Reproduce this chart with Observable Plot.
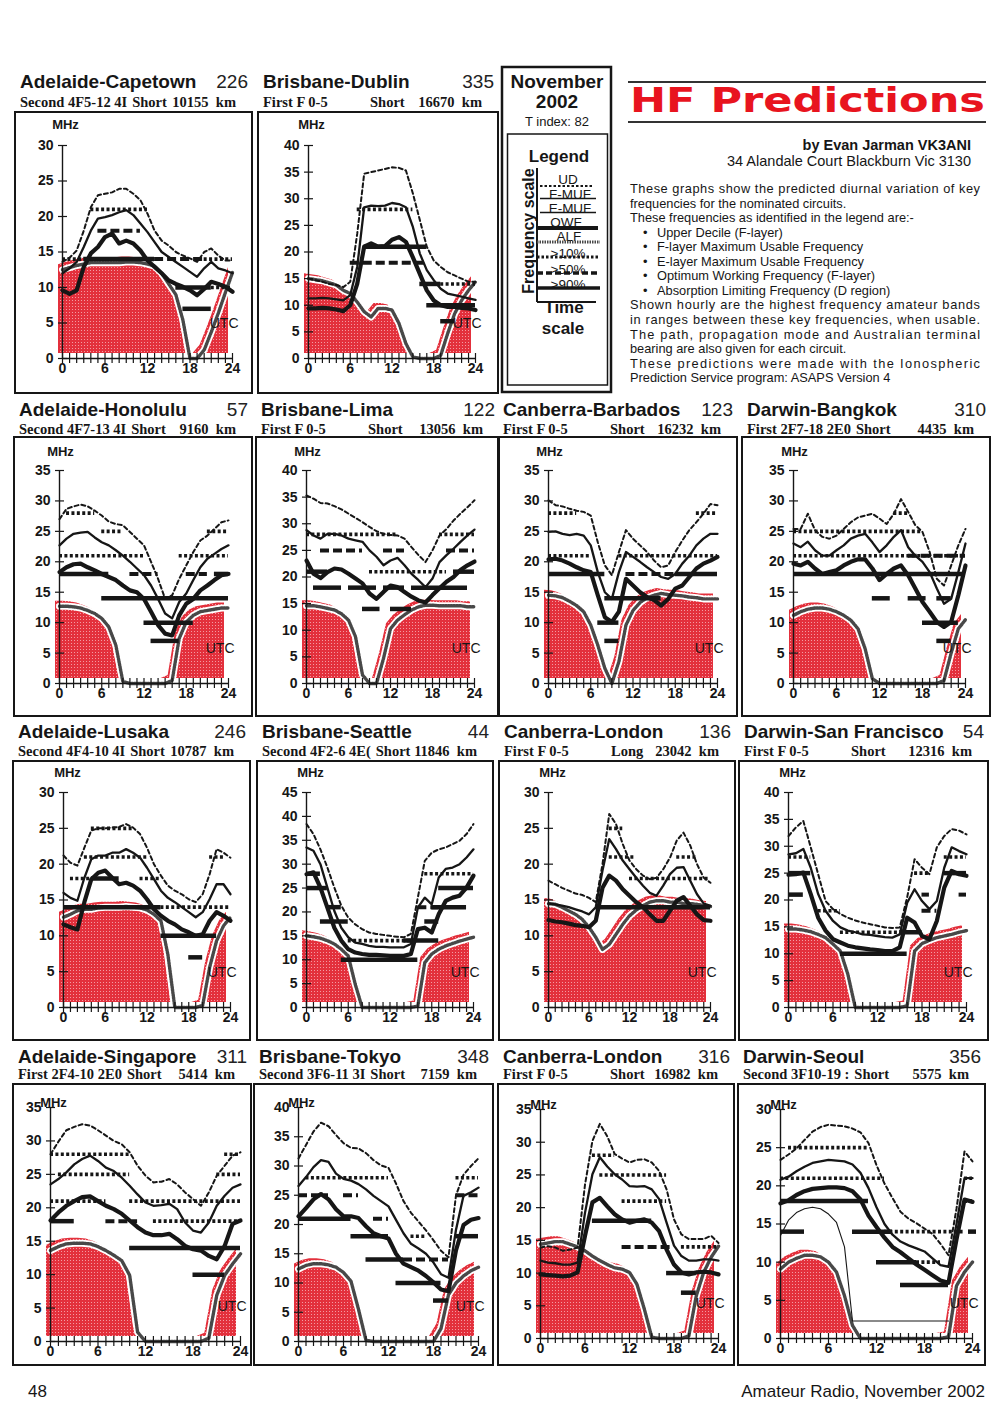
<!DOCTYPE html>
<html><head><meta charset="utf-8">
<script src="https://cdn.jsdelivr.net/npm/d3@7"></script>
<script src="https://cdn.jsdelivr.net/npm/@observablehq/plot@0.6"></script>
<style>
body{margin:0;background:#fff;}
#page{position:relative;width:1000px;height:1407px;overflow:hidden;background:#fff;}
.panel{position:absolute;}
.panel svg{display:block;overflow:visible;}
#overlay{position:absolute;left:0;top:0;z-index:5;pointer-events:none;}
</style></head>
<body>
<svg width="0" height="0" style="position:absolute"><defs>
<pattern id="stipple" width="3" height="3" patternUnits="userSpaceOnUse"><rect width="3" height="3" fill="#e3303c"/><rect x="1" y="1" width="1" height="1" fill="#f39aa2"/></pattern>
</defs></svg>
<div id="page"><svg id="overlay" width="1000" height="1407"></svg></div>
<script>
// ---------- DATA ----------
const hours = [0,1,2,3,4,5,6,7,8,9,10,11,12,13,14,15,16,17,18,19,20,21,22,23,24];
const titles = ["Adelaide-Capetown","Brisbane-Dublin","Adelaide-Honolulu","Brisbane-Lima","Canberra-Barbados","Darwin-Bangkok","Adelaide-Lusaka","Brisbane-Seattle","Canberra-London","Darwin-San Francisco","Adelaide-Singapore","Brisbane-Tokyo","Canberra-London","Darwin-Seoul"];
const bearings = ["226","335","57","122","123","310","246","44","136","54","311","348","316","356"];
const modes = ["Second 4F5-12 4I","First F 0-5","Second 4F7-13 4I","First F 0-5","First F 0-5","First 2F7-18 2E0","Second 4F4-10 4I","Second 4F2-6 4E(","First F 0-5","First F 0-5","First 2F4-10 2E0","Second 3F6-11 3I","First F 0-5","Second 3F10-19 :"];
const paths = ["Short","Short","Short","Short","Short","Short","Short","Short","Long","Short","Short","Short","Short","Short"];
const distances = ["10155  km","16670  km","9160  km","13056  km","16232  km","4435  km","10787  km","11846  km","23042  km","12316  km","5414  km","7159  km","16982  km","5575  km"];
const yMax = [30,40,35,40,35,35,30,45,30,40,35,40,35,30];
const xLabels = [0,6,12,18,24];

// Adelaide-Capetown
const cptUD   = [13.6,14.2,15.2,18,21.3,23,23.2,23.4,23.9,23.9,23.2,22.3,20.4,18,16.6,15.9,15,14.5,14.1,13.6,15,15.5,14.5,13.8,13.8];
const cptFMUF = [12,12.7,13.6,15.7,18,19.7,19.9,20.2,20.6,20.9,20.2,19,17.8,16.4,15,14.3,13.6,12.9,12.2,11.5,12.7,13.6,12.7,12.4,12];
const cptOWF  = [9.6,9.1,9.6,12.9,14.8,15.7,17.1,17.6,16.2,16.6,16.2,15.2,13.8,12.9,12,11,10.5,10.1,9.6,8.9,9.8,10.8,10.5,10.1,9.4];
const cptALF  = [12.5,12.8,13.1,13.3,13.5,13.5,13.5,13.5,13.5,13.6,13.6,13.5,13.3,13,12,10.5,9,5.4,0,0,1.2,3.7,6.4,9.3,12.1];
const cptP10  = [[0,3,14],[4,12,21],[20,24,14],[21,24,10]];
const cptP50  = [[5,11,18],[13,20,14]];
const cptP90  = [[3,13,14],[16,21,10],[17,21,7]];
// Brisbane-Dublin
const dubUD   = [15,14.7,14.4,14,13.8,13.4,14.4,23.4,34.7,35,35.3,35.6,35.9,35.8,35.3,31,26,21,18.4,17.2,16.2,15.6,15,14.4,14.4];
const dubFMUF = [11.3,11.3,11.4,11.3,11.1,10.9,11.9,17.2,28.4,28.7,28.6,28.7,29.2,29,28.4,24.7,19.7,16.6,14.7,13.1,12.2,11.9,11.6,11.3,11];
const dubOWF  = [9.4,9.4,9.5,9.4,9.2,8.9,10,14,21,21.6,21,21.1,22.3,22.8,21.9,19,15.9,12.8,10.9,10,9.7,9.7,9.5,9.4,9.1];
const dubALF  = [15,14.8,14.6,14.2,13.8,12.8,12.2,10.6,8.8,7.8,9.4,9.4,9.1,6.6,2.8,0.3,0,0,0,0.6,4.7,8.4,10.9,12.8,14.4];
const dubP10  = [[7,15,28],[19,24,14]];
const dubP50  = [[6,17,18]];
const dubP90  = [[8,17,21],[16,19,14],[17,24,10],[19,21,7]];
// Adelaide-Honolulu
const honUD   = [27,28.7,29.1,29.4,29.1,28.4,27.6,26.6,26.2,26,24.9,23.8,22.7,20,17.2,13.9,14.5,17.2,19.4,21.6,23.5,24.3,25.4,26.5,26.8];
const honFMUF = [22.7,23.8,24.6,24.8,24.9,24,23.2,22.7,21.9,21,20,18.9,17.8,16.1,13.9,11.5,10.7,13.4,14.8,17,19.1,20.5,21.3,22.1,22.7];
const honOWF  = [18.3,19.1,19.6,19.7,19.1,18.6,18,17.5,17,16.1,15.3,15,13.9,11.8,9.6,8.2,7.9,11.2,13.1,13.9,15.3,16.1,17,17.8,18];
const honALF  = [12.7,12.7,12.6,12.4,12,11.5,10.7,9.3,6.3,0.3,0,0,0,0,0,0,0.5,7.4,10.1,11.2,11.8,12,12.2,12.4,12.4];
const honP10  = [[1,5,28],[6,9,25],[21,24,25],[0,12,21],[17,24,21]];
const honP50  = [[10,14,18],[18,21,18]];
const honP90  = [[0,7,18],[22,24,18],[6,24,14],[12,19,10],[13,17,7]];
// Brisbane-Lima
const limUD   = [35.3,34.7,33.9,33.8,33.3,32.7,31.9,31.1,30.3,29.4,28.6,28.1,27.9,27.8,27.2,25.6,24.1,22.8,25,27.8,29,30.6,31.9,33.1,34.4];
const limFMUF = [28.8,27.8,27.2,28.1,28.1,27.8,27.2,26.9,26.6,25,23.8,22.2,23.1,23.6,22.2,20.6,19.4,18.1,19.7,22.8,24.1,25.3,26.6,27.8,28.9];
const limOWF  = [23.1,20.6,19.8,20.9,21.6,21.4,20.6,19.7,18.8,16.9,15.9,17.2,18.4,18.1,17.2,16.3,15.6,15.2,16.6,17.9,19.1,20,21.3,22.2,22.9];
const limALF  = [14.6,14.6,14.4,14.1,13.8,13.1,11.9,8.8,1.6,0,0,4.7,10.3,11.9,12.9,13.8,14.4,14.7,14.7,14.6,14.6,14.6,14.6,14.4,14.4];
const limP10  = [[0,13,28],[19,24,28],[9,20,21]];
const limP50  = [[2,8,25],[11,14,25],[20,24,25]];
const limP90  = [[0,3,21],[21,24,21],[1,5,18],[6,10,18],[11,14,18],[15,23,18],[8,10.5,14],[12,15,14]];
// Canberra-Barbados
const barUD   = [30.1,29.3,29.1,28.7,28.4,28.2,27.6,23.2,19.4,17.8,21.6,25.2,23.8,22.7,21.6,20.2,19.1,19.4,21.6,23.5,25.2,26.5,27.9,29.5,29.3];
const barFMUF = [24.9,25,24.6,24.4,24.6,24.3,22.7,18.3,15,13.9,18.3,21.6,20.8,20,19.1,18.3,17.5,17.2,18,19.7,21,22.7,23.8,24.6,24.6];
const barOWF  = [20.4,20.5,20.2,19.7,19.1,18.6,18.3,14.5,10.9,10.1,11.8,17.2,16.1,15,14.2,13.7,12.8,13.9,15.6,16.1,17.5,18.9,19.7,20.2,20.8];
const barALF  = [14.5,14.4,14.1,13.5,12.8,11.8,9.6,6.3,2.5,0,3.6,9.6,12,13.3,14.1,14.5,14.8,14.6,14.5,14.4,14.2,14.1,13.9,13.9,13.9];
const barP10  = [[0,4,28],[21,24,28],[0,6,21],[10,24,21]];
const barP50  = [[11,18,18]];
const barP90  = [[0,8,18],[18,24,18],[8,16,14],[7,10,10],[8,10,7]];
// Darwin-Bangkok
const bkkUD   = [25.4,25.4,27.9,25.2,24.1,23.8,24.3,25.4,26.5,27.3,27.6,27.9,27.1,26.2,27.9,30.3,28.2,26,24.9,21.6,17.2,16.1,19.4,22.7,25.4];
const bkkFMUF = [23,22.4,23.3,21.9,21,21,21.9,22.7,23.8,24.3,24.6,23.2,21.6,22.7,24.1,25.2,22.4,21,20,18.3,15.6,13.1,13.9,18.3,23];
const bkkOWF  = [19.7,19.4,20,18.9,18,18.3,18.6,19.4,20,20.4,20.4,18.9,17,18,18.9,19.4,17.8,15.6,13.4,11.8,10.1,9.3,10.1,14.5,19.4];
const bkkALF  = [11.2,11.8,12.2,12.4,12.4,12.2,11.8,11.2,10.4,9,5.7,0.8,0,0,0,0,0,0,0,0,0,0.5,5,9,10.5];
const bkkP10  = [[0,18,25],[14,16,28],[0,24,21]];
const bkkP50  = [[16,24,21]];
const bkkP90  = [[0,24,18],[11,13.5,14],[16,18.5,14],[20,22,14],[18,23,10],[20,22,7]];
// Adelaide-Lusaka
const lusUD   = [21.2,20.2,19.8,22.3,24.7,25,25,25.1,25.2,25.6,25.1,24.2,22.3,20,18.4,17,16.3,15.8,15.1,14.7,15.8,18.6,22.1,21.6,20.9];
const lusFMUF = [16,15.3,14.9,18.1,20.7,21.2,21.2,21.6,21.6,22.1,21.6,20.9,19.5,17.9,16.3,15.3,14.7,14,13.3,12.6,13.3,15.1,17.2,17.2,15.8];
const lusOWF  = [11.6,11.2,10.9,14.7,17.9,18.8,19.1,18.1,17.2,17.4,17,16.3,15.1,13.7,12.8,12.1,11.6,10.9,10.5,10,10.2,12.1,13.3,12.8,12.1];
const lusALF  = [12.6,13,13.5,13.7,13.7,13.9,14,14,14,14.1,14,13.9,13.6,13,12.1,7.4,0,0,0,0,0.3,5.6,9.3,11.4,12.6];
const lusP10  = [[4,10,25],[3,12,21],[1,4,18],[11,14,18],[21,23,21],[14,24,14]];
const lusP50  = [];
const lusP90  = [[4,8,18],[0,14,14],[14,22,10],[18,20,7]];
// Brisbane-Seattle
const seaUD   = [38.4,36.3,33.1,29.3,25.1,21.3,18.8,17.4,16.4,15.7,15.4,15.2,15,14.8,14.7,15.4,23,30.7,32.4,33.1,33.5,34.2,34.9,36.3,38.4];
const seaFMUF = [33.5,32.8,30,25.1,20.2,16.7,14.7,13.6,13.3,12.9,12.7,12.7,12.6,12.6,12.6,13.3,20.9,23,21.6,27.2,29,29.3,30,31.4,33.1];
const seaOWF  = [27.9,28.3,25.1,20.9,16.7,14,12.2,11.5,11.2,11,11,10.9,10.8,10.8,10.8,11.2,16.4,16.7,15.7,19.5,22.3,23,23.4,25.1,27.6];
const seaALF  = [15,14.8,14.5,14,13.3,12.2,10.8,4.9,0,0,0,0,0,0,0,0,0.3,9.4,11.2,12.2,12.9,13.4,13.9,14.3,14.7];
const seaP10  = [[17,24,28],[6,15,14]];
const seaP50  = [[16,19,21]];
const seaP90  = [[0,2,28],[0,3,25],[3,5,21],[2,6,18],[5,16,10],[14,19,14],[17,19,18],[18,23,21],[19,24,25]];
// Canberra-London (long path)
const lolUD   = [17.7,17.2,16.7,16.3,15.9,15.7,15.3,14.7,20,27,25.6,22.8,20.5,19.3,18.4,17.9,18.1,19.3,20.9,23.3,24.4,22.6,20,18.1,17.4];
const lolFMUF = [14.5,14.4,14.2,14,13.7,13.4,13,14,19.1,23.5,22.1,20.5,19.3,18.1,17,16,15.6,17,18.6,19.5,19.6,17.7,15.8,14.5,14.2];
const lolOWF  = [12.2,12,11.9,11.7,11.5,11.4,11.2,12.1,16.7,18.4,17.7,16.5,15.6,14.7,14,13,12.1,12.1,13.5,14.9,15.4,14.2,13,12.2,12.1];
const lolALF  = [14.5,14.4,14,13.5,13,12.3,11.2,9.8,8.1,8.8,10.2,11.6,12.8,13.6,14.2,14.7,14.9,14.9,14.7,14.7,14.5,14.5,14.4,14.2,14.1];
const lolP10  = [[9,11,25],[9,13,21],[19,22,21],[12,24,18]];
const lolP50  = [];
const lolP90  = [[7,24,14]];
// Darwin-San Francisco
const sfoUD   = [31.9,33.5,34.7,29.8,24.8,19.8,18.3,17.4,16.7,16.2,15.8,15.5,15.2,14.9,14.8,14.9,20.5,27.6,26,24.8,29.8,31.9,33.2,32.9,32.2];
const sfoFMUF = [28.5,28.7,29.5,26,21.1,18,16.1,14.9,14.3,14,13.6,13.5,13.3,13.1,13,13.6,19.5,22,19.8,18.3,19.8,26,29.8,29.1,28.5];
const sfoOWF  = [24.7,24.8,25.1,21.1,16.7,14.3,12.7,12.1,11.5,11.2,11,10.8,10.7,10.5,10.5,11.2,16.7,15.8,13.3,12.7,16.1,22.3,25.4,24.8,24.5];
const sfoALF  = [14.6,14.6,14.4,14.1,13.6,13,11.8,10.5,6.2,0,0,0,0,0,0,0,0.3,10.5,11.9,12.5,13,13.3,13.6,14,14.3];
const sfoP10  = [[0,3,28],[21,24,28],[17,19,25],[4,7,18],[7,15,14]];
const sfoP50  = [[18,19,21],[23,24,21],[18,20,18]];
const sfoP90  = [[0,3,25],[0,2,21],[7,16,10],[15,18,14],[21,24,25]];
// Adelaide-Singapore
const sinUD   = [28,29.9,31.6,32.1,32.5,32.3,31.6,30.8,30,29.5,28.3,26.3,24.8,23.8,23.9,24.3,23.5,22.3,21.3,20.3,22.3,24.8,26.3,27.8,28.3];
const sinFMUF = [23.5,24.3,25.3,26.5,27.3,27.8,27,26,25.5,24.5,23.3,22,20.8,20.3,20.4,20.6,19.8,17.8,16.6,16.3,17.8,20.3,21.8,23,23.5];
const sinOWF  = [18.1,19.3,20.3,21,21.6,21.7,21,20.3,19.8,19.1,18.1,17.1,16.3,15.9,15.9,16.1,15.3,14.3,13.8,13.6,12.8,12.3,14.3,17.6,18.1];
const sinALF  = [13.6,14.2,14.6,14.7,14.7,14.6,14.2,13.6,12.9,12.1,9.9,1.4,0,0,0,0,0,0,0,0,0.5,6.9,9.9,11.6,13.1];
const sinP10  = [[0,10,28],[22,24,28],[1,10,25],[21,24,25],[0,7,21],[10,24,21],[13,24,18]];
const sinP50  = [[7,11,18]];
const sinP90  = [[0,3,18],[10,24,14],[18,22,10]];
// Brisbane-Tokyo
const tyoUD   = [31.3,33.6,35.9,37.4,36.8,35.3,33.9,33.1,33,32.2,31,30.1,29.7,27,24,22,20.5,19,17.3,15.5,14.4,25,28.5,30,31.3];
const tyoFMUF = [26.6,28.1,29.8,31,30.7,28.7,27.8,27.5,26.9,26,24.9,24,23.1,20.8,18.5,16.7,15.9,15,13.5,11.5,10.9,19.1,24.9,25.5,26.3];
const tyoOWF  = [21.4,22.8,24.3,25.2,24.3,22.6,21.4,21.4,21.1,19.7,18.5,18,17.6,15,13.3,12.7,12.1,11.2,10.1,8.9,8.6,15.6,19.9,20.8,21.1];
const tyoALF  = [12.4,13,13.3,13.3,13.1,12.7,11.8,10.3,5.5,0.2,0,0,0,0,0,0,0,0,0,2.2,8,10,11.2,12.1,12.7];
const tyoP10  = [[1,12,28],[21,24,28],[15,17,18]];
const tyoP50  = [[0,4,25],[6,8,25],[21,24,25],[10,12,21],[14,20,14]];
const tyoP90  = [[0,7,21],[7,12,18],[21,24,18],[9,14,14],[13,19,10],[18,20,7]];
// Canberra-London (short path)
const losUD   = [13.9,14.1,13.9,13.4,13.6,13.9,23.5,30.2,32.8,30.9,28.2,27.5,26.9,27.3,27.4,26.9,25.6,22.8,18.2,15.9,15.2,15.2,15.2,15.7,14.6];
const losFMUF = [11.9,11.6,11.5,11.3,11.3,11.6,19.2,25.1,27.7,26.3,25.1,24.3,23.3,23.2,23.3,22.8,21.3,17.7,14.2,12.6,11.9,11.9,12.1,12.1,11.9];
const losOWF  = [9.8,9.7,9.6,9.5,9.6,10.1,15.7,20.8,21.5,20.2,19,18.2,17.7,18,18.2,17.7,16.4,13.6,11.3,10.1,9.8,10.1,10.2,10.1,9.8];
const losALF  = [14.4,14.6,14.8,14.8,14.4,14,13.4,12.6,11.9,11.3,10.8,10.6,10.1,8.3,4.5,0.2,0,0,0,0,0.4,6.5,10.1,12.4,14.1];
const losP10  = [[7,10,28],[8,17,25],[11,17,21],[19,24,14]];
const losP50  = [[11,18,14]];
const losP90  = [[7,15,18],[17,21,10],[19,21,7]];
// Darwin-Seoul
const selUD   = [23.4,24.1,24.9,26,27.1,27.7,28,27.9,27.8,27.5,27,25.6,22.7,20.3,18.4,16.6,15.7,15.1,14.4,13.7,12.4,10.9,17,24.5,23.2];
const selFMUF = [20.8,21.2,21.9,22.5,23,23.2,23.4,23.3,23.2,22.8,21.7,19.7,17.2,15,13.6,12.7,12.2,11.8,11.4,10.5,9.6,9.4,15,21,21];
const selOWF  = [17.7,18.1,18.8,19.3,19.6,19.7,19.8,19.8,19.7,19.3,18.2,16.1,14.6,13.2,12,11.3,10.5,9.7,9,8.3,7.6,7.3,13,18.2,17.9];
const selEMUF = [13.5,15.5,16.5,17,17.2,17,16.3,15.2,12,2.3,2.3,2.3,2.3,2.3,2.3,2.3,2.3,2.3,2.3,2.3,2.3,2.3,null,null,null];
const selALF  = [9.1,10,10.5,10.9,10.9,10.7,10,8.7,5.6,1.7,0,0,0,0,0,0,0,0,0,0,0,0.2,6.9,8.7,10];
const selP10  = [[1,11,25],[0,13,21],[13,23,14],[17,20,10],[23,24,21],[23,24,18]];
const selP50  = [];
const selP90  = [[0,11,18],[0,3,14],[9,14,14],[12,17,10],[15,21,7],[23.5,24.5,14]];

const series = [
  {ud:cptUD,fmuf:cptFMUF,owf:cptOWF,alf:cptALF,p10:cptP10,p50:cptP50,p90:cptP90},
  {ud:dubUD,fmuf:dubFMUF,owf:dubOWF,alf:dubALF,p10:dubP10,p50:dubP50,p90:dubP90},
  {ud:honUD,fmuf:honFMUF,owf:honOWF,alf:honALF,p10:honP10,p50:honP50,p90:honP90},
  {ud:limUD,fmuf:limFMUF,owf:limOWF,alf:limALF,p10:limP10,p50:limP50,p90:limP90},
  {ud:barUD,fmuf:barFMUF,owf:barOWF,alf:barALF,p10:barP10,p50:barP50,p90:barP90},
  {ud:bkkUD,fmuf:bkkFMUF,owf:bkkOWF,alf:bkkALF,p10:bkkP10,p50:bkkP50,p90:bkkP90},
  {ud:lusUD,fmuf:lusFMUF,owf:lusOWF,alf:lusALF,p10:lusP10,p50:lusP50,p90:lusP90},
  {ud:seaUD,fmuf:seaFMUF,owf:seaOWF,alf:seaALF,p10:seaP10,p50:seaP50,p90:seaP90},
  {ud:lolUD,fmuf:lolFMUF,owf:lolOWF,alf:lolALF,p10:lolP10,p50:lolP50,p90:lolP90},
  {ud:sfoUD,fmuf:sfoFMUF,owf:sfoOWF,alf:sfoALF,p10:sfoP10,p50:sfoP50,p90:sfoP90},
  {ud:sinUD,fmuf:sinFMUF,owf:sinOWF,alf:sinALF,p10:sinP10,p50:sinP50,p90:sinP90},
  {ud:tyoUD,fmuf:tyoFMUF,owf:tyoOWF,alf:tyoALF,p10:tyoP10,p50:tyoP50,p90:tyoP90},
  {ud:losUD,fmuf:losFMUF,owf:losOWF,alf:losALF,p10:losP10,p50:losP50,p90:losP90},
  {ud:selUD,fmuf:selFMUF,owf:selOWF,alf:selALF,emuf:selEMUF,p10:selP10,p50:selP50,p90:selP90}
];

const legendLabels = ["UD","F-MUF","E-MUF","OWF","ALF",">10%",">50%",">90%"];
const bodyLines = [
  ["These graphs show the predicted diurnal variation of key", true],
  ["frequencies for the nominated circuits.", false],
  ["These frequencies as identified in the legend are:-", false],
  ["\u2022Upper Decile (F-layer)", false],
  ["\u2022F-layer Maximum Usable Frequency", false],
  ["\u2022E-layer Maximum Usable Frequency", false],
  ["\u2022Optimum Working Frequency (F-layer)", false],
  ["\u2022Absorption Limiting Frequency (D region)", false],
  ["Shown hourly are the highest frequency amateur bands", true],
  ["in ranges between these key frequencies, when usable.", true],
  ["The path, propagation mode and Australian terminal", true],
  ["bearing are also given for each circuit.", false],
  ["These predictions were made with the Ionospheric", true],
  ["Prediction Service program: ASAPS Version 4", false]
];

// ---------- LAYOUT (page pixels) ----------
const rowGeo = [
  {top:112, bottom:393, yTop:145, y0:358, tb:88,   sb:107,  mdx:3, mdy:26},
  {top:437, bottom:716, yTop:470, y0:683, tb:416,  sb:434,  mdx:1, mdy:24},
  {top:761, bottom:1040,yTop:792, y0:1007,tb:738,  sb:756,  mdx:4, mdy:25},
  {top:1084,bottom:1365,yTop:1107,y0:1341,tb:1063, sb:1079, mdx:3, mdy:10}
];
const colGeo = [
  {row:0,left:15, right:252,x0:62, x24:232},
  {row:0,left:258,right:498,x0:308,x24:475},
  {row:1,left:14, right:252,x0:59, x24:228},
  {row:1,left:256,right:499,x0:306,x24:474},
  {row:1,left:498,right:737,x0:548,x24:717},
  {row:1,left:742,right:990,x0:793,x24:965},
  {row:2,left:13, right:250,x0:63, x24:230},
  {row:2,left:257,right:493,x0:306,x24:473},
  {row:2,left:499,right:735,x0:548,x24:710},
  {row:2,left:739,right:988,x0:788,x24:966},
  {row:3,left:13, right:251,x0:50, x24:240},
  {row:3,left:254,right:493,x0:298,x24:478},
  {row:3,left:498,right:734,x0:540,x24:718, yTop:1109, y0:1338},
  {row:3,left:738,right:985,x0:780,x24:972, yTop:1109, y0:1338}
];

const INK = "#161616";
const SANS = "Liberation Sans, Arial, Helvetica, sans-serif";
const SERIF = "Liberation Serif, Times New Roman, serif";
const page = document.getElementById("page");

function drawChart(i) {
  const c = series[i], g = colGeo[i], r = rowGeo[g.row];
  const top = r.top, bottom = r.bottom;
  const yTop = g.yTop ?? r.yTop, y0 = g.y0 ?? r.y0;
  const rows = hours.map((h, k) => ({h, ud:c.ud[k], fmuf:c.fmuf[k], owf:c.owf[k], alf:c.alf[k], emuf: c.emuf ? c.emuf[k] : null}));
  const yTicks = d3.range(0, yMax[i] + 1, 5);
  const band = (segs, o) => Plot.ruleY(segs, {y: d => d[2], x1: d => d[0], x2: d => d[1], stroke: INK, ...o});
  const marks = [
    Plot.areaY(rows, {x:"h", y:"alf", fill:"url(#stipple)", dx:-4, dy:-5}),
    Plot.lineY(rows, {x:"h", y:"alf", stroke:"#fff", strokeWidth:7}),
    Plot.lineY(rows, {x:"h", y:"alf", stroke:"#484848", strokeWidth:3.4, strokeDasharray:"1.6,1.1"}),
    Plot.ruleX([0], {y1:0, y2:yMax[i], stroke:INK, strokeWidth:1.4}),
    Plot.ruleY([0], {x1:0, x2:24, stroke:INK, strokeWidth:1.4}),
    Plot.axisX({ticks:hours, tickSize:10, dy:-5, tickFormat:() => "", label:null, strokeWidth:1.2}),
    Plot.axisX({ticks:xLabels, tickSize:0, tickPadding:5, fontSize:14, fontWeight:"bold", label:null}),
    Plot.axisY({ticks:yTicks, tickSize:9, dx:5, tickFormat:() => "", label:null, strokeWidth:1.2}),
    Plot.axisY({ticks:yTicks, tickSize:0, tickPadding:9, fontSize:14, fontWeight:"bold", label:null}),
    band(c.p90, {strokeWidth:4.5}),
    band(c.p50, {strokeWidth:4, strokeDasharray:"9,4"}),
    band(c.p10, {strokeWidth:3.6, strokeDasharray:"3,2.4"}),
    Plot.lineY(rows, {x:"h", y:"ud", stroke:INK, strokeWidth:2, strokeDasharray:"4,3"}),
    Plot.lineY(rows, {x:"h", y:"fmuf", stroke:INK, strokeWidth:2.3}),
    Plot.lineY(rows, {x:"h", y:"owf", stroke:INK, strokeWidth:4.2}),
    Plot.text(["MHz"], {frameAnchor:"top-left", dx:r.mdx, dy:-r.mdy, fontSize:13, fontWeight:"bold", textAnchor:"middle"}),
    Plot.text(["UTC"], {frameAnchor:"bottom-right", dx:6, dy:-31, fontSize:14, textAnchor:"end"})
  ];
  if (c.emuf) marks.push(Plot.lineY(rows, {x:"h", y:"emuf", stroke:INK, strokeWidth:1.1}));
  const svg = Plot.plot({
    width: g.right - g.left, height: bottom - top,
    marginLeft: g.x0 - g.left, marginRight: g.right - g.x24,
    marginTop: yTop - top, marginBottom: bottom - y0,
    x: {domain:[0,24], label:null}, y: {domain:[0, yMax[i]], label:null},
    style: {background:"transparent", fontFamily:SANS, color:INK, overflow:"visible"},
    marks
  });
  const div = document.createElement("div");
  div.className = "panel";
  div.style.left = g.left + "px"; div.style.top = top + "px";
  div.appendChild(svg);
  page.appendChild(div);
}
for (let i = 0; i < titles.length; i++) drawChart(i);

// ---------- OVERLAY TEXT / FRAMES / LEGEND ----------
const ov = d3.select("#overlay");
function T(x, y, s, o = {}) {
  const t = ov.append("text").attr("x", x).attr("y", y).text(s)
    .attr("font-family", o.family || SANS).attr("font-size", o.size || 14)
    .attr("font-weight", o.weight || "normal").attr("fill", o.fill || INK)
    .attr("text-anchor", o.anchor || "start").style("white-space", "pre");
  if (o.len) t.attr("textLength", o.len).attr("lengthAdjust", o.adj || "spacing");
  if (o.transform) t.attr("transform", o.transform);
  return t;
}
function line(x1, y1, x2, y2, o = {}) {
  ov.append("line").attr("x1", x1).attr("y1", y1).attr("x2", x2).attr("y2", y2)
    .attr("stroke", o.stroke || INK).attr("stroke-width", o.w || 1.5)
    .attr("stroke-dasharray", o.dash || null);
}

titles.forEach((name, i) => {
  const g = colGeo[i], r = rowGeo[g.row];
  ov.append("rect").attr("x", g.left).attr("y", r.top).attr("width", g.right - g.left)
    .attr("height", r.bottom - r.top).attr("fill", "none").attr("stroke", INK).attr("stroke-width", 2);
  T(g.left + 5, r.tb, name, {size:19, weight:"bold"});
  T(g.right - 4, r.tb, bearings[i], {size:19, anchor:"end", fill:"#222"});
  const m = T(g.left + 5, r.sb, modes[i], {family:SERIF, size:14.5, weight:"bold"});
  const mEnd = g.left + 5 + m.node().getComputedTextLength();
  T(Math.max(g.left + 112, mEnd + 5), r.sb, paths[i], {family:SERIF, size:14.5, weight:"bold"});
  T(g.right - 16, r.sb, distances[i], {family:SERIF, size:14.5, weight:"bold", anchor:"end"});
});

// Header block
line(628, 82, 986, 82, {w:2, stroke:"#333"});
line(628, 122, 986, 122, {w:2, stroke:"#333"});
T(630, 112, "HF Predictions", {family:"DejaVu Sans, Liberation Sans, sans-serif", size:33, weight:"bold", fill:"#e8141e", len:355, adj:"spacingAndGlyphs"});
T(971, 150, "by Evan Jarman VK3ANI", {size:14.5, weight:"bold", anchor:"end"});
T(971, 166, "34 Alandale Court Blackburn Vic 3130", {size:14.5, anchor:"end"});
bodyLines.forEach(([s, just], k) => {
  const y = 193 + k * 14.55;
  if (s.startsWith("\u2022")) {
    T(643, y, "\u2022", {size:12.8});
    T(657, y, s.slice(1), {size:12.8});
  } else {
    T(630, y, s, just ? {size:12.8, len:350} : {size:12.8});
  }
});

// Legend panel
ov.append("rect").attr("x", 502).attr("y", 67).attr("width", 109).attr("height", 325).attr("fill", "none").attr("stroke", INK).attr("stroke-width", 2.5);
T(557, 88, "November", {size:19, weight:"bold", anchor:"middle"});
T(557, 108, "2002", {size:19, weight:"bold", anchor:"middle"});
T(557, 126, "T index: 82", {size:13, anchor:"middle"});
ov.append("rect").attr("x", 507.5).attr("y", 134).attr("width", 100).attr("height", 251).attr("fill", "none").attr("stroke", INK).attr("stroke-width", 1.5);
T(559, 162, "Legend", {size:17, weight:"bold", anchor:"middle"});
T(0, 0, "Frequency scale", {size:16, weight:"bold", anchor:"middle", transform:"translate(534,231) rotate(-90)"});
line(537, 168, 537, 302, {w:2});
line(537, 302, 596, 302, {w:2});
const lgY = [184, 198.5, 212.5, 226.5, 240.5, 258, 274, 289];
const lgX = [568, 570, 570, 566, 569, 568, 568, 568];
const lgLine = [
  {y:186, x1:540, x2:592, w:2, dash:"2.5,2"},
  {y:198.5, x1:540, x2:596, w:1.6},
  {y:212.5, x1:540, x2:596, w:1.4},
  {y:228, x1:537, x2:598, w:4},
  {y:242, x1:537, x2:600, w:3, dash:"1.5,1", stroke:"#484848"},
  {y:257, x1:537, x2:600, w:3, dash:"2.5,2"},
  {y:273, x1:537, x2:600, w:3.5, dash:"6,3"},
  {y:288, x1:537, x2:600, w:3.5}
];
legendLabels.forEach((s, k) => {
  T(lgX[k], lgY[k], s, {size:13.5, anchor:"middle"});
  const l = lgLine[k];
  line(l.x1, l.y, l.x2, l.y, {w:l.w, dash:l.dash, stroke:l.stroke});
});
T(564, 313, "Time", {size:17, weight:"bold", anchor:"middle"});
T(563, 334, "scale", {size:17, weight:"bold", anchor:"middle"});

// Footer
T(28, 1397, "48", {size:17});
T(985, 1397, "Amateur Radio, November 2002", {size:17, anchor:"end"});
</script>
</body></html>
